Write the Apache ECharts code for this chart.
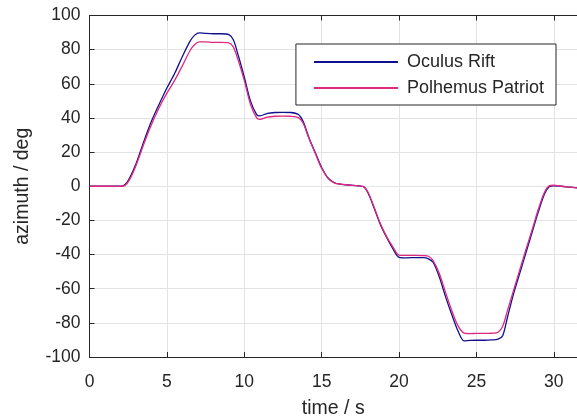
<!DOCTYPE html>
<html><head><meta charset="utf-8">
<script src="https://cdn.jsdelivr.net/npm/echarts@6/dist/echarts.min.js"></script>
<style>html,body{margin:0;padding:0;background:#fff}#c{width:577px;height:418px}</style>
</head><body><div id="c"></div>
<script>
const time = [0, 1, 2.0, 2.3, 2.6, 3.0, 3.5, 4.0, 4.5, 5.0, 5.5, 6.0, 6.5, 6.8, 7.1, 7.5, 8.0, 8.5, 9.0, 9.3, 9.6, 10.0, 10.4, 10.8, 11.0, 11.5, 12.0, 12.5, 13.0, 13.5, 13.8, 14.2, 14.6, 15.0, 15.4, 15.8, 16.2, 17.0, 17.7, 18.0, 18.4, 18.8, 19.2, 19.6, 20.0, 20.5, 21.0, 21.6, 21.9, 22.2, 22.6, 23.0, 23.4, 23.8, 24.2, 24.6, 25.0, 25.5, 26.0, 26.4, 26.7, 27.0, 27.4, 27.8, 28.2, 28.6, 29.0, 29.4, 29.7, 30.0, 30.5, 31.0, 31.5];
const oculusRift = [0, 0, 0, 1, 5, 13, 26, 38, 48, 57.5, 66, 76, 85, 88.5, 89.8, 89.5, 89.3, 89.3, 88.8, 85.7, 77, 64, 50, 42, 41.2, 42.7, 43.2, 43.3, 43.2, 42, 38, 28, 19.5, 11, 5, 2.2, 1.2, 0.5, -0.2, -4, -13, -22.5, -30, -36.5, -41.6, -41.9, -41.8, -41.8, -42.5, -44.5, -53, -64.5, -75, -84.5, -90.5, -90.3, -90.2, -90.2, -90, -89.5, -87.5, -77, -63, -51, -39, -27, -15, -4.5, -0.3, 0.3, 0, -0.5, -1];
const polhemusPatriot = [0, 0, 0, 0.5, 4, 12, 24.5, 36, 46, 54.5, 62, 70.5, 79.5, 83, 84.5, 84.5, 84.3, 84.3, 84, 81.5, 74, 62, 48, 40, 39.2, 40.5, 41, 41.1, 41, 40.2, 37, 27.5, 19, 10.5, 4.8, 2, 1.2, 0.5, -0.2, -3.5, -12.5, -22, -29.5, -35.5, -40.3, -40.5, -40.5, -40.6, -41, -43.5, -51, -62, -72.5, -81.5, -86, -86.3, -86.2, -86.2, -86.1, -85.5, -82, -73, -61, -49, -37, -25.5, -13.5, -3.5, 0.2, 0.6, 0, -0.5, -1];
const seriesNames = ['Oculus Rift', 'Polhemus Patriot'];
const xTicks = [0, 5, 10, 15, 20, 25, 30];
const yTicks = [-100, -80, -60, -40, -20, 0, 20, 40, 60, 80, 100];

const FONT = 'Liberation Sans, Arial, sans-serif';
const chart = echarts.init(document.getElementById('c'), null, {renderer: 'canvas'});
const pair = arr => time.map((t, i) => [t, arr[i]]);
const axisLineStyle = {color: '#262626', width: 1};
chart.setOption({
  animation: false,
  backgroundColor: '#ffffff',
  grid: {left: 89.5, top: 15.5, right: 0, bottom: 61, containLabel: false, outerBoundsMode: 'none'},
  legend: {
    show: true,
    right: 21, top: 44,
    orient: 'vertical',
    itemWidth: 84, itemHeight: 2, itemGap: 8,
    padding: [9, 12, 8, 18],
    borderColor: '#262626', borderWidth: 1,
    backgroundColor: '#ffffff',
    icon: 'rect',
    textStyle: {fontFamily: FONT, fontSize: 18, color: '#262626', padding: [0, 0, 0, 4]},
    data: seriesNames
  },
  xAxis: [{
    type: 'value', min: 0, max: 31.5, interval: 5,
    name: 'time / s', nameLocation: 'middle', nameGap: 42,
    nameTextStyle: {fontFamily: FONT, fontSize: 19.5, color: '#262626'},
    axisLine: {show: true, onZero: false, lineStyle: axisLineStyle},
    axisTick: {show: true, inside: true, length: 5, lineStyle: axisLineStyle},
    axisLabel: {fontFamily: FONT, fontSize: 17.5, color: '#262626', margin: 16, showMaxLabel: false,
      formatter: v => xTicks.includes(v) ? String(v) : ''},
    splitLine: {show: true, lineStyle: {color: '#e3e3e3', width: 1}}
  }, {
    type: 'value', min: 0, max: 31.5, interval: 5, position: 'top',
    axisLine: {show: true, onZero: false, lineStyle: axisLineStyle},
    axisTick: {show: true, inside: true, length: 5, lineStyle: axisLineStyle},
    axisLabel: {show: false}, splitLine: {show: false}
  }],
  yAxis: {
    type: 'value', min: -100, max: 100, interval: 20,
    name: 'azimuth / deg', nameLocation: 'middle', nameGap: 57, nameRotate: 90,
    nameTextStyle: {fontFamily: FONT, fontSize: 19.5, color: '#262626'},
    axisLine: {show: true, onZero: false, lineStyle: axisLineStyle},
    axisTick: {show: true, inside: true, length: 5, lineStyle: axisLineStyle},
    axisLabel: {fontFamily: FONT, fontSize: 17.5, color: '#262626', margin: 9,
      formatter: v => yTicks.includes(v) ? String(v) : ''},
    splitLine: {show: true, lineStyle: {color: '#e3e3e3', width: 1}}
  },
  series: [
    {name: seriesNames[0], type: 'line', data: pair(oculusRift), showSymbol: false, smooth: 0.3,
      lineStyle: {color: '#10108f', width: 1.3}, itemStyle: {color: '#10108f'}},
    {name: seriesNames[1], type: 'line', data: pair(polhemusPatriot), showSymbol: false, smooth: 0.3,
      lineStyle: {color: '#e0287f', width: 1.3}, itemStyle: {color: '#e0287f'}}
  ]
});
</script></body></html>
